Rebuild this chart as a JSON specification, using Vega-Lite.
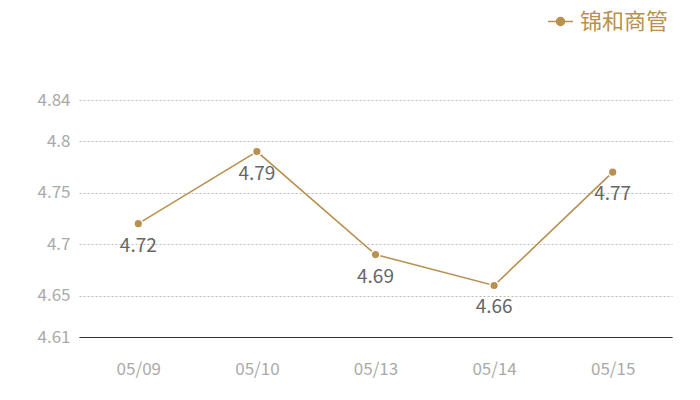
{
  "$schema": "https://vega.github.io/schema/vega-lite/v6.json",
  "width": 593,
  "height": 237,
  "autosize": {"type": "none"},
  "padding": {"left": 79, "top": 100, "right": 28, "bottom": 63},
  "background": "white",
  "config": {
    "view": {"stroke": null},
    "font": "Noto Sans CJK SC"
  },
  "data": {
    "values": [
      {"date": "05/09", "value": 4.72, "series": "锦和商管"},
      {"date": "05/10", "value": 4.79, "series": "锦和商管"},
      {"date": "05/13", "value": 4.69, "series": "锦和商管"},
      {"date": "05/14", "value": 4.66, "series": "锦和商管"},
      {"date": "05/15", "value": 4.77, "series": "锦和商管"}
    ]
  },
  "encoding": {
    "x": {
      "field": "date",
      "type": "ordinal",
      "scale": {"type": "point", "padding": 0.5},
      "axis": {
        "title": null,
        "labelAngle": 0,
        "ticks": false,
        "domainColor": "#333333",
        "domainWidth": 1,
        "labelColor": "#aaaaaa",
        "labelFontSize": 17,
        "labelPadding": 24,
        "grid": false
      }
    },
    "y": {
      "field": "value",
      "type": "quantitative",
      "scale": {"domain": [4.61, 4.84], "nice": false, "zero": false},
      "axis": {
        "title": null,
        "values": [4.61, 4.65, 4.7, 4.75, 4.8, 4.84],
        "format": ".2~f",
        "domain": false,
        "ticks": false,
        "labelColor": "#aaaaaa",
        "labelFontSize": 17,
        "labelPadding": 9,
        "gridColor": "#bbbbbb",
        "gridDash": [2, 2],
        "gridWidth": 1
      }
    }
  },
  "layer": [
    {
      "mark": {"type": "line", "strokeWidth": 1.6},
      "encoding": {
        "color": {
          "field": "series",
          "type": "nominal",
          "scale": {"range": ["#b8904f"]},
          "legend": {
            "title": null,
            "orient": "none",
            "legendX": 468,
            "legendY": -92,
            "padding": 0,
            "symbolType": "M-1,0L-0.32,0M0.32,0L1,0M-0.32,0A0.32,0.32,0,1,1,0.32,0A0.32,0.32,0,1,1,-0.32,0Z",
            "symbolSize": 625,
            "symbolStrokeWidth": 1.5,
            "symbolFillColor": "#b8904f",
            "symbolStrokeColor": "#b8904f",
            "labelFontSize": 22,
            "labelColor": "#b8904f",
            "labelOffset": 6,
            "labelFont": "Noto Sans CJK SC"
          }
        }
      }
    },
    {
      "mark": {"type": "point", "filled": true, "size": 75, "opacity": 1, "stroke": "white", "strokeWidth": 1.5, "fill": "#b8904f"},
      "encoding": {}
    },
    {
      "mark": {"type": "text", "dy": 22, "baseline": "middle", "align": "center", "fontSize": 19, "color": "#666666"},
      "encoding": {"text": {"field": "value", "type": "quantitative", "format": ".2f"}}
    }
  ]
}
